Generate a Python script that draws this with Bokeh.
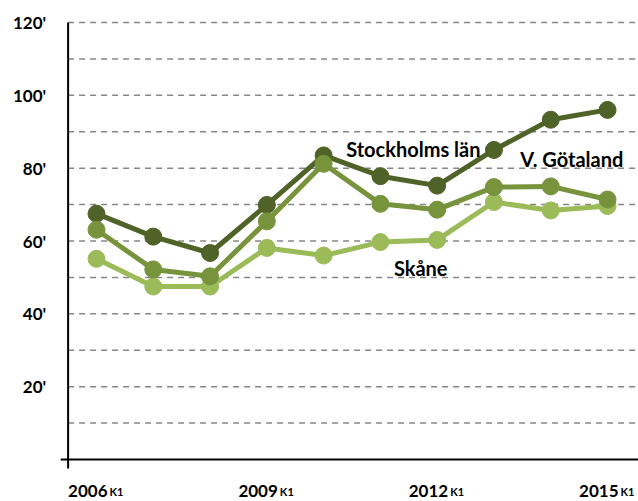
from bokeh.plotting import figure
from bokeh.models import Range1d, ColumnDataSource
from bokeh.core.properties import value
from bokeh.embed import file_html
from bokeh.resources import INLINE

# ---- data ----
periods = ["2006K1", "2006K3", "2007K1", "2009K1", "2009K3", "2010K1", "2012K1", "2012K3", "2013K1", "2015K1"]
tick_years = ["2006", "2009", "2012", "2015"]
tick_index = [0, 3, 6, 9]
tick_sub = ["K1", "K1", "K1", "K1"]
stockholm = [67.5, 61.2, 56.7, 69.9, 83.5, 77.8, 75.2, 85.0, 93.3, 96.0]
vgotaland = [63.1, 52.2, 50.3, 65.4, 81.2, 70.2, 68.6, 74.8, 75.0, 71.4]
skane = [55.1, 47.5, 47.5, 58.1, 56.0, 59.7, 60.3, 70.7, 68.4, 69.6]
y_ticks = [20, 40, 60, 80, 100, 120]
grid_vals = [10, 20, 30, 40, 50, 60, 70, 80, 90, 100, 110, 120]
series_names = ["Stockholms län", "V. Götaland", "Skåne"]
label_x = [5.58, 8.37, 5.71]
label_y = [85.4, 82.4, 52.7]

c_dark = "#4F6228"
c_mid = "#77933C"
c_light = "#9BBB59"

W, H = 638, 501
p = figure(width=W, height=H, output_backend="svg", toolbar_location=None,
           x_range=Range1d(-1.6907, 9.5456), y_range=Range1d(-11.53, 126.04),
           min_border=0, outline_line_color=None)
p.axis.visible = False
p.grid.visible = False
p.background_fill_color = "white"
p.border_fill_color = "white"

n = len(periods)
idx = list(range(n))

# gridlines
p.segment(x0=[-0.5] * len(grid_vals), y0=grid_vals, x1=[9.55] * len(grid_vals), y1=grid_vals,
          line_color="#868686", line_width=1.5, line_dash="6 5")

# axes
p.segment(x0=[-0.5], y0=[-2.5], x1=[-0.5], y1=[120], line_color="black", line_width=2)
p.segment(x0=[-0.63], y0=[0], x1=[9.55], y1=[0], line_color="black", line_width=2)

# y labels
p.text(x=[-0.5] * len(y_ticks), y=y_ticks, text=[f"{v}'" for v in y_ticks],
       x_offset=-22, text_align="right", text_baseline="middle",
       text_font=value("Lato"), text_font_style="bold", text_font_size="17px", text_color="black")

# x labels
p.text(x=tick_index, y=[0] * len(tick_index), text=tick_years, x_offset=11, y_offset=31,
       text_align="right", text_baseline="alphabetic",
       text_font=value("Lato"), text_font_style="bold", text_font_size="17px", text_color="black")
p.text(x=tick_index, y=[0] * len(tick_index), text=tick_sub, x_offset=13, y_offset=32,
       text_align="left", text_baseline="alphabetic",
       text_font=value("Lato"), text_font_style="bold", text_font_size="11px", text_color="black")

# series
for vals, col in [(skane, c_light), (stockholm, c_dark), (vgotaland, c_mid)]:
    src = ColumnDataSource(dict(x=idx, y=vals))
    p.line("x", "y", source=src, line_color=col, line_width=5)
    p.scatter("x", "y", source=src, size=17, fill_color=col, line_color=col)

# series labels
p.text(x=label_x, y=label_y, text=series_names, text_align="center", text_baseline="alphabetic",
       text_font=value("Lato"), text_font_style="bold", text_font_size="20px", text_color="black")

open("out.html", "w").write(file_html(p, INLINE))
